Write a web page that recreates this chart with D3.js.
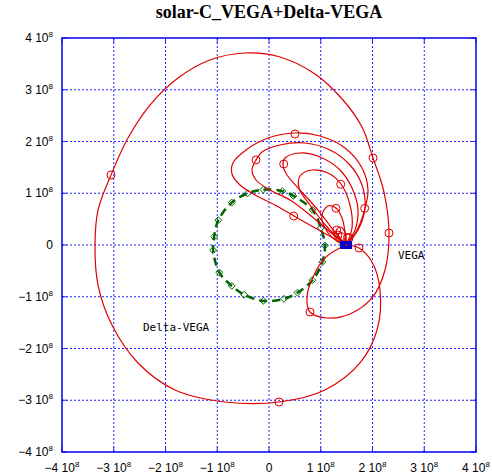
<!DOCTYPE html>
<html>
<head>
<meta charset="utf-8">
<script src="https://cdn.jsdelivr.net/npm/d3@7"></script>
<style>
  html, body { margin: 0; padding: 0; background: #fff; }
  svg { display: block; }
</style>
</head>
<body>
<svg id="chart" width="492" height="476"></svg>
<script>
// ---- data (units of 10^8 km) ----
const title = "solar-C_VEGA+Delta-VEGA";
const tickValues = [-4, -3, -2, -1, 0, 1, 2, 3, 4];
const tickLabels = ["\u22124", "\u22123", "\u22122", "\u22121", "0", "1", "2", "3", "4"];

// Venus orbit points (diamond markers)
const venusOrbit = [
  [-0.41, 1.00], [-0.11, 1.07], [0.26, 1.04], [0.47, 0.95], [0.84, 0.68], [1.00, 0.33],
  [1.08, -0.01], [1.03, -0.33], [0.84, -0.68], [0.55, -0.92], [0.29, -1.04], [-0.11, -1.08],
  [-0.48, -0.96], [-0.72, -0.79], [-0.96, -0.53], [-1.08, -0.10], [-1.06, 0.16], [-0.98, 0.48],
  [-0.72, 0.82]
];

// Earth position (blue square)
const earth = [1.49, 0.0];

// Delta-VEGA trajectory (big loop, leaves and returns to Earth)
const deltaVega = [
  [1.488, 0.0], [1.739, -0.058], [1.990, -0.329], [2.145, -0.870], [2.087, -1.643], [1.758, -2.280],
  [1.082, -2.802], [0.193, -3.034], [-0.850, -3.034], [-1.816, -2.802], [-2.531, -2.280],
  [-3.034, -1.546], [-3.304, -0.773], [-3.362, 0.0], [-3.304, 0.676], [-3.053, 1.353],
  [-2.725, 2.068], [-2.300, 2.705], [-1.758, 3.227], [-1.140, 3.575], [-0.464, 3.710],
  [0.213, 3.633], [0.889, 3.304], [1.430, 2.802], [1.797, 2.280], [2.010, 1.681], [2.222, 1.024],
  [2.319, 0.232], [2.242, -0.483], [1.990, -1.024], [1.565, -1.333], [1.121, -1.411], [0.792, -1.295],
  [0.734, -1.005], [0.850, -0.618], [1.101, -0.232], [1.488, 0.0]
];
const deltaVegaMarks = [
  [0.193, -3.034], [-3.053, 1.353], [2.010, 1.681], [2.319, 0.232], [0.792, -1.295], [1.739, -0.058]
];

// VEGA trajectories (loops from Earth toward the Venus orbit)
const vegaLoops = [
  [[1.488, 0.0], [1.681, 0.251], [1.836, 0.638], [1.913, 1.063], [1.797, 1.488], [1.469, 1.874],
   [0.986, 2.106], [0.502, 2.164], [-0.019, 2.068], [-0.444, 1.836], [-0.696, 1.585], [-0.715, 1.372],
   [-0.560, 1.159], [-0.271, 0.966], [0.116, 0.773], [0.483, 0.560], [0.889, 0.329], [1.237, 0.135], [1.488, 0.0]],
  [[1.488, 0.0], [1.720, 0.290], [1.855, 0.715], [1.797, 1.159], [1.565, 1.546], [1.179, 1.836],
   [0.696, 1.971], [0.213, 1.932], [-0.135, 1.797], [-0.251, 1.643], [-0.329, 1.449], [-0.251, 1.256],
   [0.019, 1.063], [0.406, 0.870], [0.792, 0.580], [1.179, 0.251], [1.488, 0.0]],
  [[1.488, 0.0], [1.662, 0.290], [1.720, 0.676], [1.604, 1.101], [1.372, 1.449], [0.986, 1.700],
   [0.599, 1.778], [0.309, 1.681], [0.271, 1.546], [0.348, 1.353], [0.599, 1.063], [0.947, 0.676],
   [1.275, 0.251], [1.488, 0.0]],
  [[1.488, 0.0], [1.604, 0.329], [1.565, 0.773], [1.391, 1.179], [1.140, 1.391], [0.831, 1.449],
   [0.599, 1.333], [0.580, 1.101], [0.792, 0.773], [1.140, 0.329], [1.488, 0.0]],
  [[1.488, 0.0], [1.469, 0.251], [1.411, 0.522], [1.295, 0.715], [1.140, 0.754], [1.024, 0.580],
   [1.082, 0.329], [1.333, 0.058], [1.488, 0.0]],
  [[1.488, 0.0], [1.372, 0.135], [1.295, 0.271], [1.372, 0.348], [1.469, 0.251], [1.488, 0.0]],
  [[1.488, 0.0], [1.449, 0.097], [1.469, 0.213], [1.585, 0.193], [1.546, 0.058], [1.488, 0.0]]
];
const vegaMarks = [
  [0.502, 2.145], [-0.251, 1.643], [0.284, 1.565], [1.386, 1.173], [0.477, 0.560], [1.849, 0.709],
  [1.295, 0.709], [1.308, 0.290], [1.333, 0.193], [1.405, 0.160], [1.546, 0.135]
];

// ---- drawing ----
const svg = d3.select("#chart");
const L = 62, R = 476, T = 38, B = 452;
const x = d3.scaleLinear().domain([-4, 4]).range([L, R]);
const y = d3.scaleLinear().domain([-4, 4]).range([B, T]);
const gridColor = "#2020ff";

svg.append("text").attr("x", (L + R) / 2).attr("y", 18)
  .attr("text-anchor", "middle").attr("font-family", "Liberation Serif, serif")
  .attr("font-weight", "bold").attr("font-size", 18).text(title);

svg.append("defs").append("clipPath").attr("id", "plotclip")
  .append("rect").attr("x", L).attr("y", T).attr("width", R - L).attr("height", B - T);

// grid
const grid = svg.append("g");
tickValues.slice(1, -1).forEach(v => {
  grid.append("line").attr("x1", x(v)).attr("x2", x(v)).attr("y1", T).attr("y2", B)
    .attr("stroke", gridColor).attr("stroke-width", 1).attr("stroke-dasharray", "2,2");
  grid.append("line").attr("y1", y(v)).attr("y2", y(v)).attr("x1", L).attr("x2", R)
    .attr("stroke", gridColor).attr("stroke-width", 1).attr("stroke-dasharray", "2,2");
});

// axes with tick labels
function labelText(sel, i) {
  const t = tickLabels[i];
  if (t === "0") { sel.text("0"); return; }
  sel.text(t + " 10");
  sel.append("tspan").attr("dy", -5).attr("font-size", 8).text("8");
}
const axisFont = "Liberation Sans, Arial, sans-serif";
tickValues.forEach((v, i) => {
  const tx = svg.append("text").attr("x", x(v)).attr("y", 472).attr("text-anchor", "middle")
    .attr("font-family", axisFont).attr("font-size", 12).attr("fill", "#000");
  labelText(tx, i);
  const ty = svg.append("text").attr("x", 53).attr("y", y(v) + 4).attr("text-anchor", "end")
    .attr("font-family", axisFont).attr("font-size", 12).attr("fill", "#000");
  labelText(ty, i);
  svg.append("line").attr("x1", x(v)).attr("x2", x(v)).attr("y1", B).attr("y2", B - 5).attr("stroke", gridColor);
  svg.append("line").attr("x1", x(v)).attr("x2", x(v)).attr("y1", T).attr("y2", T + 5).attr("stroke", gridColor);
  svg.append("line").attr("y1", y(v)).attr("y2", y(v)).attr("x1", L).attr("x2", L + 5).attr("stroke", gridColor);
  svg.append("line").attr("y1", y(v)).attr("y2", y(v)).attr("x1", R).attr("x2", R - 5).attr("stroke", gridColor);
});

const plot = svg.append("g").attr("clip-path", "url(#plotclip)");
const line = d3.line().x(d => x(d[0])).y(d => y(d[1])).curve(d3.curveCatmullRom.alpha(0.5));
const lineClosed = d3.line().x(d => x(d[0])).y(d => y(d[1])).curve(d3.curveCatmullRomClosed.alpha(0.5));

// Venus orbit
plot.append("path").attr("d", lineClosed(venusOrbit)).attr("fill", "none")
  .attr("stroke", "#006400").attr("stroke-width", 2.5).attr("stroke-dasharray", "8,5");
plot.selectAll(".dia").data(venusOrbit).enter().append("path")
  .attr("d", d3.symbol().type(d3.symbolDiamond2).size(30))
  .attr("transform", d => `translate(${x(d[0])},${y(d[1])})`)
  .attr("fill", "none").attr("stroke", "#006400").attr("stroke-width", 1);

// red trajectories
const red = "#e00000";
plot.append("path").attr("d", line(deltaVega)).attr("fill", "none").attr("stroke", red).attr("stroke-width", 1.2);
vegaLoops.forEach(l => {
  plot.append("path").attr("d", line(l)).attr("fill", "none").attr("stroke", red).attr("stroke-width", 1.2);
});
plot.selectAll(".rm").data(deltaVegaMarks.concat(vegaMarks)).enter().append("circle")
  .attr("cx", d => x(d[0])).attr("cy", d => y(d[1])).attr("r", 4)
  .attr("fill", "none").attr("stroke", red).attr("stroke-width", 1);

// Earth
plot.append("rect").attr("x", x(earth[0]) - 6).attr("y", y(earth[1]) - 4).attr("width", 12).attr("height", 8)
  .attr("fill", "#0000cc");
plot.append("rect").attr("x", x(earth[0]) - 1).attr("y", y(earth[1]) - 1).attr("width", 2).attr("height", 2)
  .attr("fill", red);

// labels
svg.append("text").attr("x", 398).attr("y", 259).attr("font-family", "DejaVu Sans Mono, monospace")
  .attr("font-size", 11).text("VEGA");
svg.append("text").attr("x", 143).attr("y", 331).attr("font-family", "DejaVu Sans Mono, monospace")
  .attr("font-size", 11).text("Delta-VEGA");

// frame
svg.append("rect").attr("x", L).attr("y", T).attr("width", R - L).attr("height", B - T)
  .attr("fill", "none").attr("stroke", "#0000ee").attr("stroke-width", 1.5);
</script>
</body>
</html>
